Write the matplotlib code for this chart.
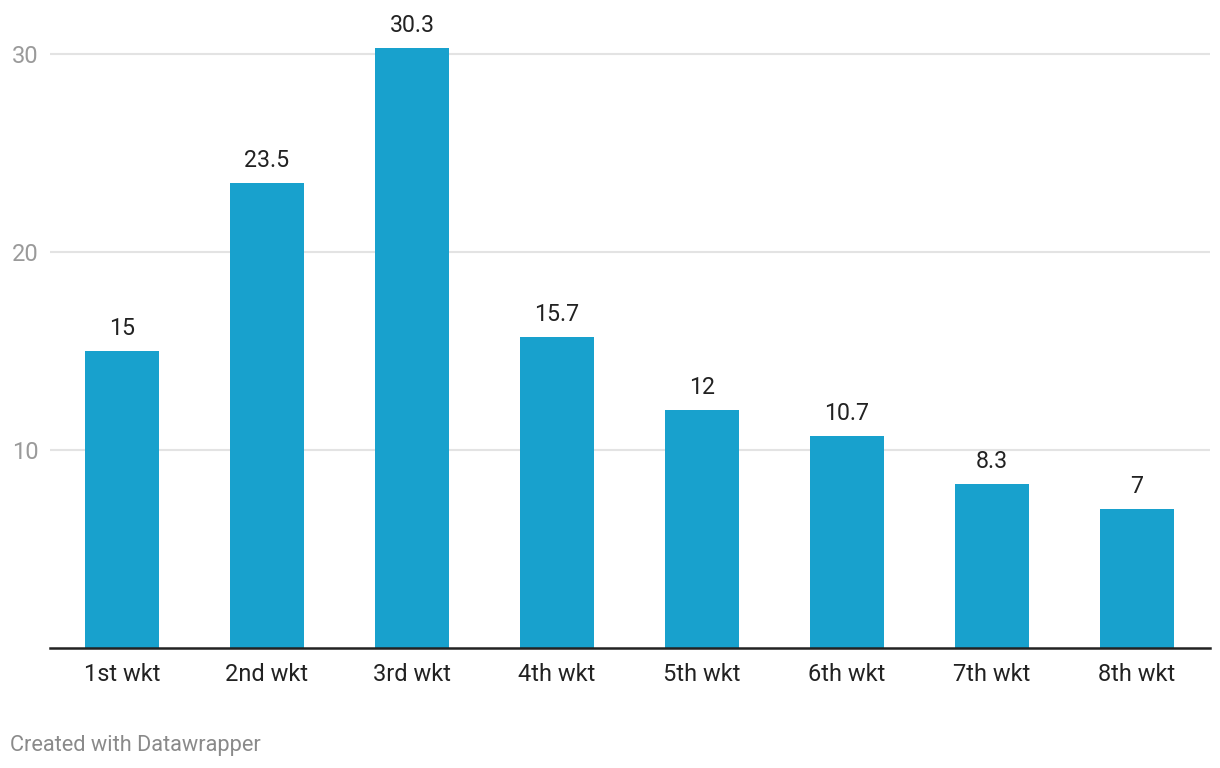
import matplotlib
matplotlib.use("Agg")
import matplotlib.pyplot as plt

categories = ["1st wkt", "2nd wkt", "3rd wkt", "4th wkt", "5th wkt", "6th wkt", "7th wkt", "8th wkt"]
values = [15, 23.5, 30.3, 15.7, 12, 10.7, 8.3, 7]
value_labels = ["15", "23.5", "30.3", "15.7", "12", "10.7", "8.3", "7"]
yticks = [10, 20, 30]

plt.rcParams['font.family'] = ['Roboto', 'DejaVu Sans']

W, H = 1220, 768
fig = plt.figure(figsize=(W / 100, H / 100), dpi=100)
left, right = 49.5, 1209.5
bottom, top = 648, 20
ax = fig.add_axes([left / W, (H - bottom) / H, (right - left) / W, (bottom - top) / H])

x = list(range(len(categories)))
ax.bar(x, values, width=0.51, color="#18a1cd", zorder=2)
ax.set_xlim(-0.5, len(categories) - 0.5)
ax.set_ylim(0, (bottom - top) / 19.8)

for xi, v, lab in zip(x, values, value_labels):
    ax.annotate(lab, (xi, v), xytext=(0, 8), textcoords="offset points",
                ha="center", va="bottom", fontsize=16.7, color="#222222", clip_on=False)

ax.set_yticks(yticks)
ax.set_yticklabels([str(t) for t in yticks])
ax.yaxis.grid(True, color="#e3e3e3", linewidth=1.5, zorder=0)
ax.tick_params(axis="y", length=0, labelsize=17, labelcolor="#9a9a9a", pad=8)
ax.set_xticks(x)
ax.set_xticklabels(categories)
ax.tick_params(axis="x", length=0, labelsize=17, labelcolor="#222222", pad=11)

for s in ["top", "right", "left"]:
    ax.spines[s].set_visible(False)
ax.spines["bottom"].set_color("#222222")
ax.spines["bottom"].set_linewidth(1.8)
ax.spines["bottom"].set_zorder(3)
ax.set_axisbelow(True)

fig.text(10 / W, 1 - 746 / H, "Created with Datawrapper", fontsize=15.7, color="#8a8a8a",
         ha="left", va="center")

fig.savefig("out.png", dpi=100, facecolor="white")
